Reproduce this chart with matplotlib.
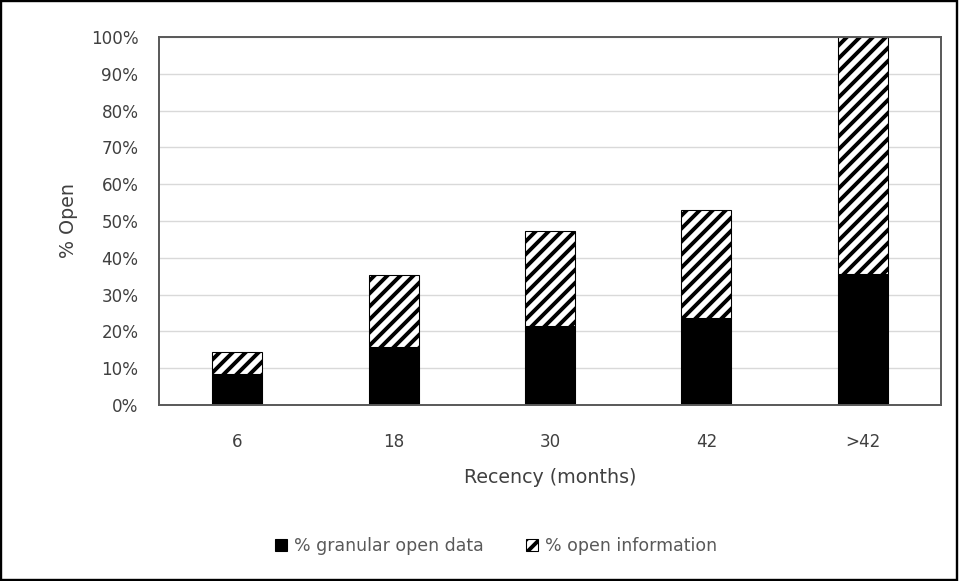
import matplotlib.pyplot as plt
from matplotlib.patches import Rectangle
from matplotlib.ticker import PercentFormatter

# --------------------------------------------------
# DATA
# --------------------------------------------------

recency = ["6", "18", "30", "42", ">42"]
granular_open_data = [8.4, 15.7, 21.5, 23.6, 35.6]
open_information = [6.1, 19.6, 25.9, 29.4, 64.4]

# --------------------------------------------------
# STYLE
# --------------------------------------------------

DPI = 78
plt.rcParams["font.family"] = ["DejaVu Sans"]
plt.rcParams["hatch.linewidth"] = 3.6
plt.rcParams["hatch.color"] = "black"

TEXT = "#404040"
SPINE = "#595959"
GRID = "#d9d9d9"

fig = plt.figure(figsize=(959 / DPI, 581 / DPI), dpi=DPI)
ax = fig.add_axes([159 / 959, 1 - 405 / 581, (941 - 159) / 959, (405 - 37) / 581])

x = range(len(recency))
ax.bar(x, granular_open_data, width=0.32, color="black", edgecolor="black",
       linewidth=1, label="% granular open data", zorder=3)
ax.bar(x, open_information, width=0.32, bottom=granular_open_data,
       color="white", edgecolor="black", hatch="//", linewidth=1,
       label="% open information", zorder=3)

ax.set_xlim(-0.5, len(recency) - 0.5)
ax.set_ylim(0, 100)
ax.set_yticks(range(0, 101, 10))
ax.yaxis.set_major_formatter(PercentFormatter(decimals=0))
ax.set_xticks(list(x))
ax.set_xticklabels(recency)

ax.grid(axis="y", color=GRID, linewidth=1.3, zorder=0)
ax.tick_params(length=0, labelsize=15.5, colors=TEXT)
ax.tick_params(axis="y", pad=19)
ax.tick_params(axis="x", pad=26)
for s in ax.spines.values():
    s.set_color(SPINE)
    s.set_linewidth(1.8)
    s.set_zorder(4)

ax.set_xlabel("Recency (months)", fontsize=17.5, color=TEXT, labelpad=16)
ax.set_ylabel("% Open", fontsize=17.5, color=TEXT, labelpad=12)

fig.legend(loc="center", bbox_to_anchor=(496 / 959, 1 - 546 / 581), ncol=2,
           frameon=False, fontsize=16, labelcolor="#595959",
           handlelength=0.7, handleheight=0.7, handletextpad=0.4,
           columnspacing=2.4)

# outer border
fig.patches.append(Rectangle((0.001, 0.002), 0.997, 0.996, transform=fig.transFigure,
                             fill=False, edgecolor="black", linewidth=2.2))

fig.savefig("out.png", dpi=DPI)
